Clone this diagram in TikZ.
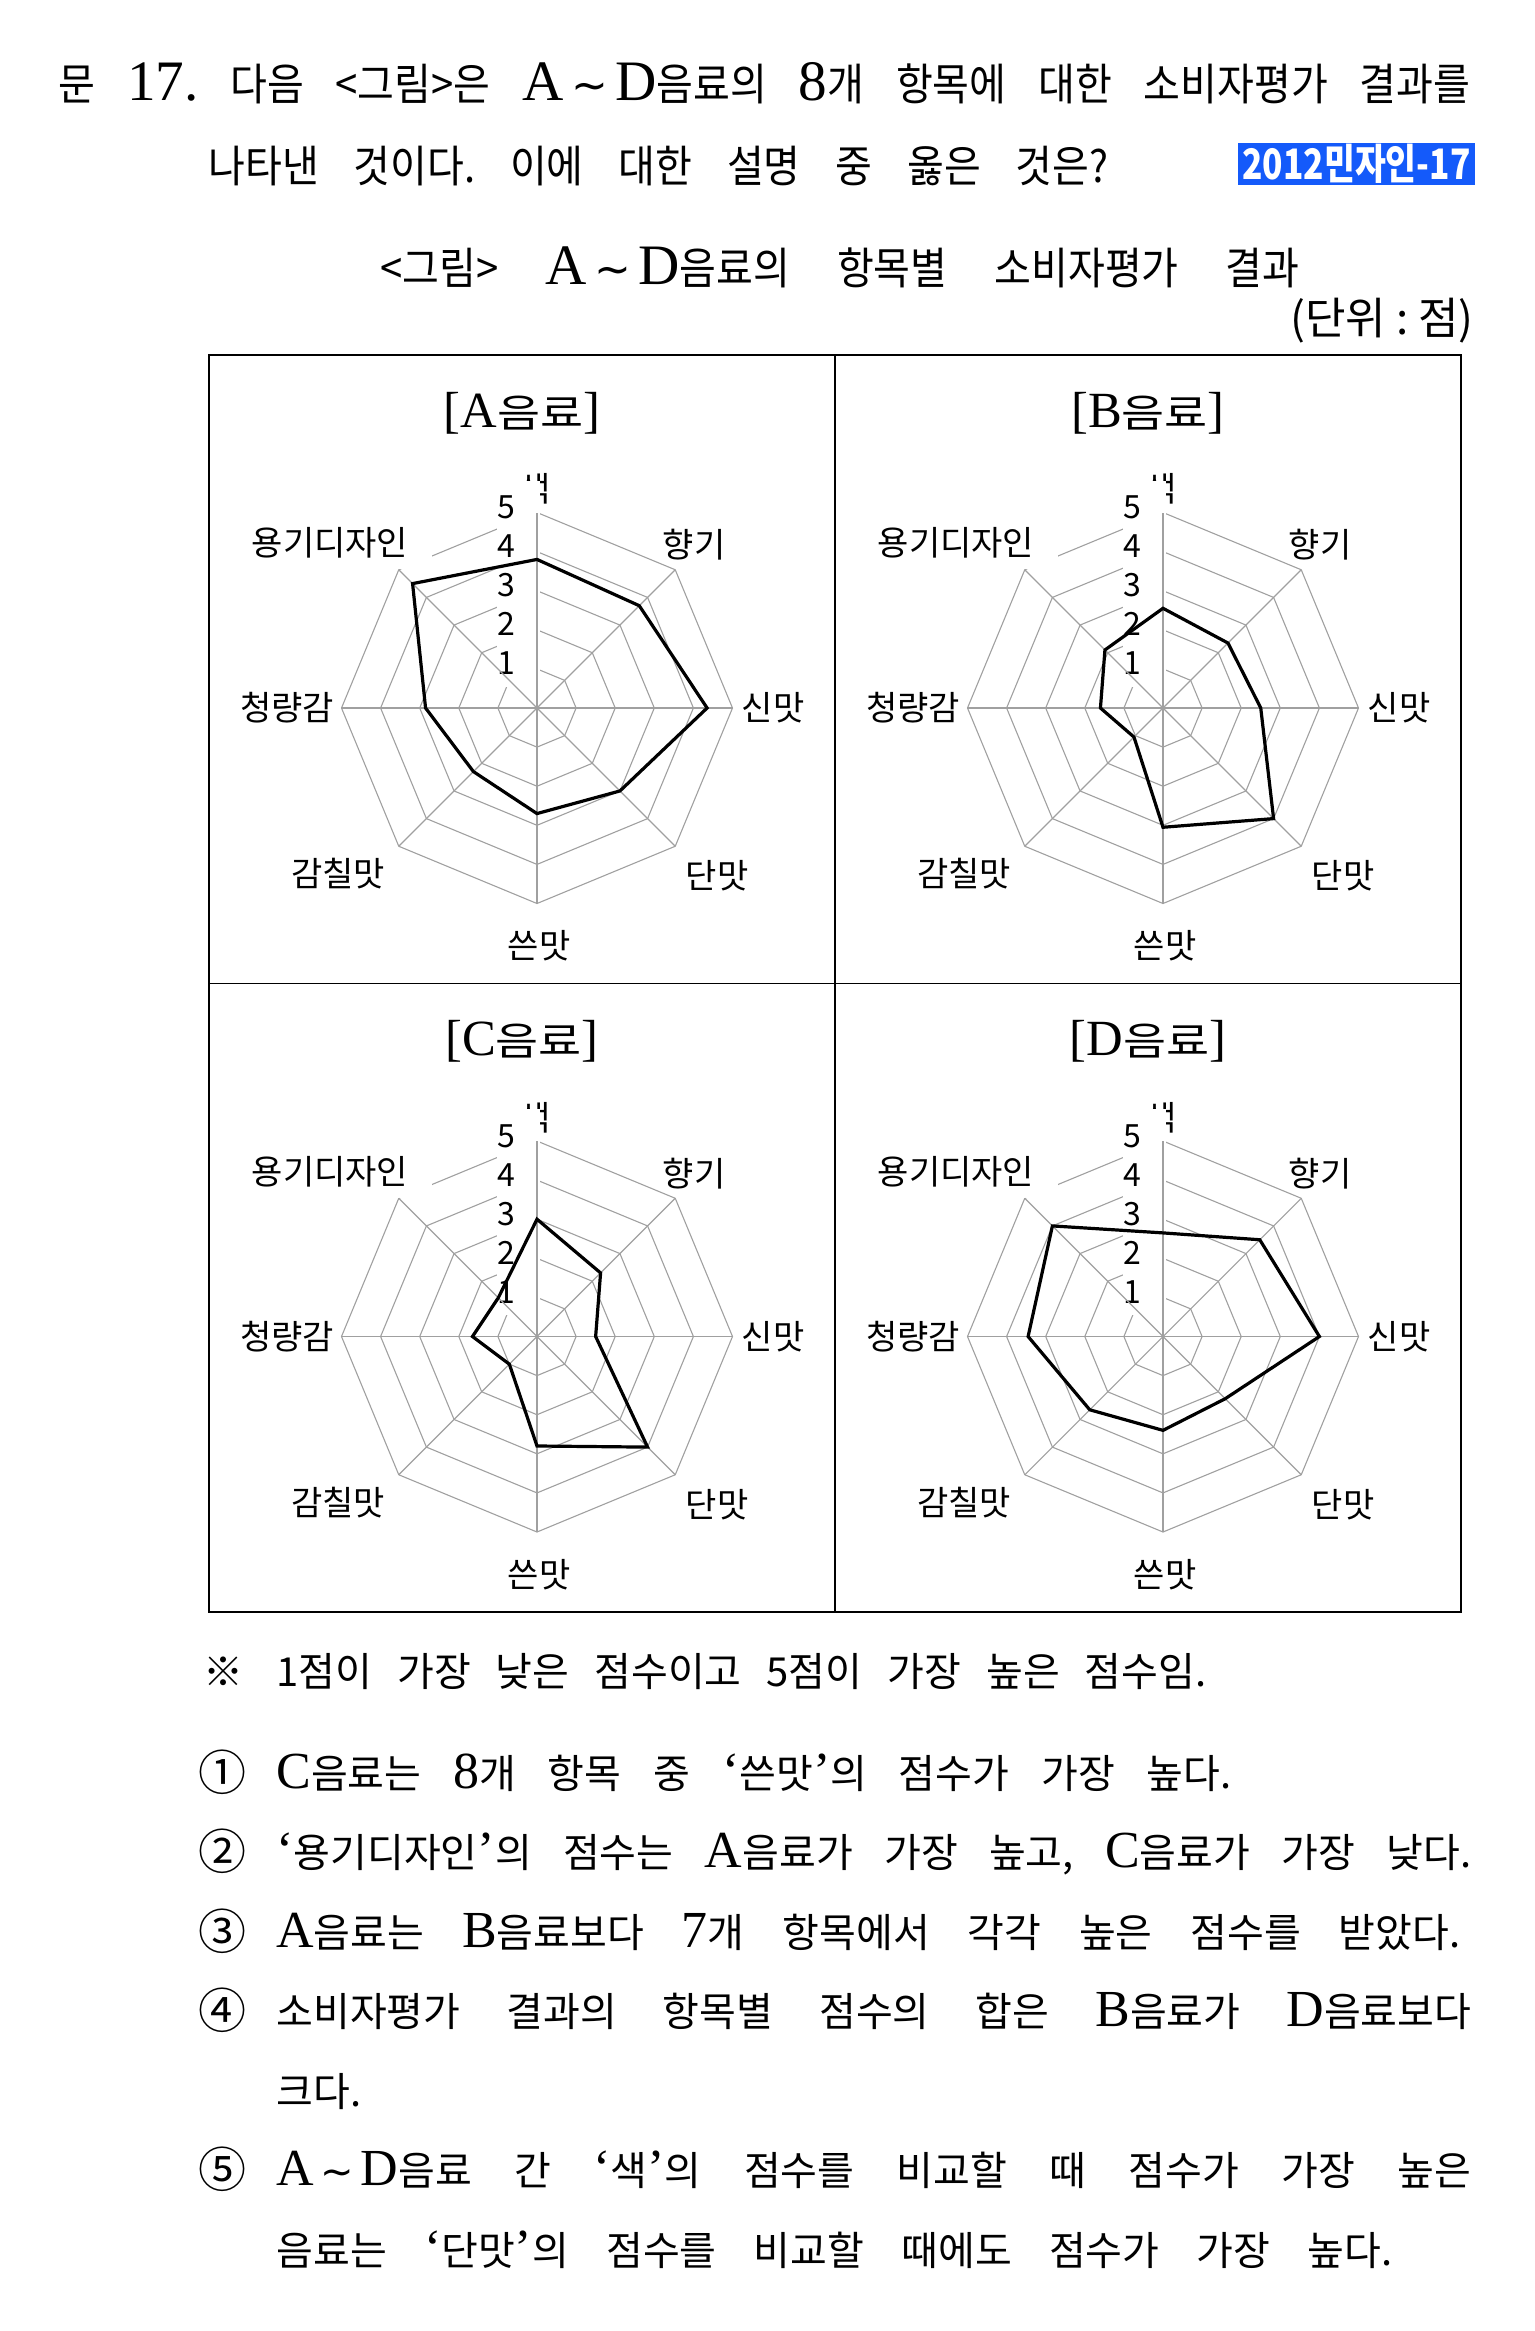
\documentclass[tikz,border=0pt]{standalone}
\usepackage{fontspec}
\usepackage{graphicx}
\setmainfont{Noto Sans CJK KR}
\newfontfamily\hdfont{Noto Sans CJK KR}[FakeStretch=0.91]
\newfontfamily\ptfont{Noto Sans CJK KR}[FakeStretch=1.2]
\newfontfamily\latfont{Liberation Serif}[Scale=1.3]
\newfontfamily\symfont{DejaVu Sans}
\newcommand\ltn[1]{{\latfont #1}}
\newcommand\tld{\,{\symfont ∼}\,}
\definecolor{gridgray}{RGB}{160,160,160}
\definecolor{badgeblue}{RGB}{20,90,250}

% one radar panel: centre x, centre y, letter, scores
\newcommand{\radar}[4]{%
\begin{scope}[shift={(#1,#2)}]
%rings
\foreach \k in {1,...,5}
  \draw[ring] (-90:\k*\unit) \foreach \j in {1,...,7}{-- (-90+45*\j:\k*\unit)} -- cycle;
%item labels
\foreach \nm/\dx/\dy [count=\i] in {색/-2/-219, 향기/157/-163, 신맛/236/0, 단맛/180/168, 쓴맛/2/238, 감칠맛/-199/166, 청량감/-250/0}
  \node[catlbl] (c#3\i) at (\dx,\dy) {\nm};
\node[catbox] (c#38) at (-207,-165) {용기디자인};
%scale
\foreach \k in {1,...,5}
  \node[numbox] (n#3\k) at (-40,-\k*\unit+6) {\makebox[21.5pt][l]{\raisebox{0pt}[19pt][6pt]{\k}}};
%spokes
\foreach \j in {0,...,7}
  \draw[ring] (0,0) -- (-90+45*\j:5*\unit);
%scores
\foreach \v [count=\i from 0] in {#4}
  \coordinate (p#3\i) at (-90+45*\i:\v*\unit);
\draw[dataline] (p#30) \foreach \i in {1,...,7}{-- (p#3\i)} -- cycle;
\end{scope}}

\begin{document}
\frenchspacing
\begin{tikzpicture}[x={(0.5pt,0pt)}, y={(0pt,-0.5pt)}]
\def\unit{39.1}
%styles
\tikzstyle{ring}=[draw=gridgray, line width=0.55pt]
\tikzstyle{dataline}=[black, line width=1.6pt]
\tikzstyle{catlbl}=[inner sep=0pt, font=\fontsize{17}{17}\selectfont]
\tikzstyle{catbox}=[catlbl, fill=white, inner xsep=12pt, inner ysep=5.5pt]
\tikzstyle{numbox}=[fill=white, inner sep=0pt, anchor=base west, font=\fontsize{16}{16}\selectfont]
\tikzstyle{frame}=[line width=0.75pt]
\tikzstyle{textLine}=[inner sep=0pt, anchor=base west]
\tikzstyle{head}=[textLine, font=\hdfont\fontsize{22}{22}\selectfont]
\tikzstyle{stmt}=[textLine, font=\fontsize{20}{20}\selectfont]
\tikzstyle{choicemark}=[textLine, font=\fontsize{24}{24}\selectfont]
\tikzstyle{ptitle}=[inner sep=0pt, font=\ptfont\fontsize{19.5}{19.5}\selectfont]

\useasboundingbox (0,0) rectangle (1535,2331);

%question
\node[head] (q1) at (58,100) {\makebox[706pt][s]{문 \ltn{17.} 다음 <그림>은 \ltn{A}\tld\ltn{D}음료의 \ltn{8}개 항목에 대한 소비자평가 결과를}};
\node[head] (q2) at (208,182) {\makebox[450pt][s]{나타낸 것이다. 이에 대한 설명 중 옳은 것은?}};
\node[fill=badgeblue, text=white, minimum width=118.5pt, minimum height=21pt, inner sep=0pt,
  font=\bfseries\fontsize{21}{21}\selectfont] (tag) at (1356.5,164) {\resizebox{114pt}{\height}{2012민자인-17}};

%caption
\node[head] (cap) at (380,284) {\makebox[459.5pt][s]{<그림> \ltn{A}\tld\ltn{D}음료의 항목별 소비자평가 결과}};
\node[inner sep=0pt, anchor=base east, font=\fontsize{22}{22}\selectfont] (unit) at (1474,334) {(단위 : 점)};

%frame
\coordinate (tl) at (209,355);
\coordinate (br) at (1461,1612);
\coordinate (midT) at (835,355);
\coordinate (midB) at (835,1612);
\coordinate (midL) at (209,983.5);
\coordinate (midR) at (1461,983.5);
\draw[frame] (tl) rectangle (br);
\draw[frame] (midT) -- (midB);
\draw[frame] (midL) -- (midR);

%panels
\radar{537}{708}{A}{3.8,3.7,4.35,3.0,2.7,2.3,2.85,4.5}
\radar{1163}{708}{B}{2.55,2.35,2.5,4.0,3.05,1.05,1.6,2.1}
\radar{537}{1336.5}{C}{3.0,2.3,1.5,4.0,2.8,1.0,1.65,1.4}
\radar{1163}{1336.5}{D}{2.65,3.5,4.0,2.25,2.4,2.65,3.45,4.0}

\node[ptitle] (tA) at (522,413) {\ltn{[A}음료\ltn{]}};
\node[ptitle] (tB) at (1148,413) {\ltn{[B}음료\ltn{]}};
\node[ptitle] (tC) at (522,1041.5) {\ltn{[C}음료\ltn{]}};
\node[ptitle] (tD) at (1148,1041.5) {\ltn{[D}음료\ltn{]}};

%note and choices
\node[stmt] (note) at (203,1686) {※};
\node[stmt] (noteT) at (276,1686) {\makebox[465pt][s]{1점이 가장 낮은 점수이고 5점이 가장 높은 점수임.}};
\node[choicemark] (o1) at (198,1790) {①};
\node[stmt] (o1T) at (276,1788) {\makebox[477.5pt][s]{\ltn{C}음료는 \ltn{8}개 항목 중 \ltn{‘}쓴맛\ltn{’}의 점수가 가장 높다.}};
\node[choicemark] (o2) at (198,1869) {②};
\node[stmt] (o2T) at (276,1867) {\makebox[597.5pt][s]{\ltn{‘}용기디자인\ltn{’}의 점수는 \ltn{A}음료가 가장 높고, \ltn{C}음료가 가장 낮다.}};
\node[choicemark] (o3) at (198,1949) {③};
\node[stmt] (o3T) at (276,1947) {\makebox[592pt][s]{\ltn{A}음료는 \ltn{B}음료보다 \ltn{7}개 항목에서 각각 높은 점수를 받았다.}};
\node[choicemark] (o4) at (198,2028) {④};
\node[stmt] (o4T) at (276,2026) {\makebox[597.5pt][s]{소비자평가 결과의 항목별 점수의 합은 \ltn{B}음료가 \ltn{D}음료보다}};
\node[stmt] (o4b) at (276,2106) {크다.};
\node[choicemark] (o5) at (198,2187) {⑤};
\node[stmt] (o5T) at (276,2185) {\makebox[597.5pt][s]{\ltn{A}\tld\ltn{D}음료 간 \ltn{‘}색\ltn{’}의 점수를 비교할 때 점수가 가장 높은}};
\node[stmt] (o5b) at (276,2265) {\makebox[558pt][s]{음료는 \ltn{‘}단맛\ltn{’}의 점수를 비교할 때에도 점수가 가장 높다.}};

\end{tikzpicture}
\end{document}
